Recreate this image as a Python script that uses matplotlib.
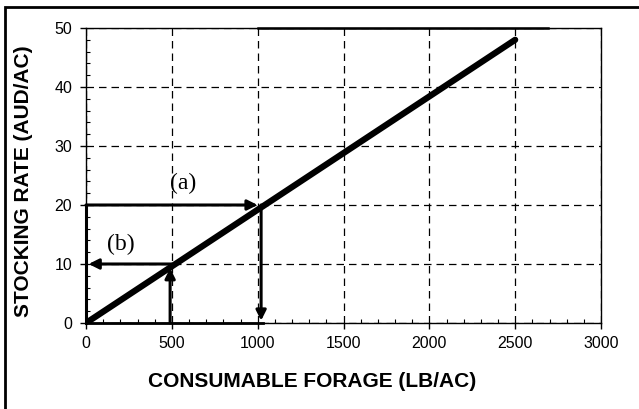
import matplotlib
matplotlib.use("Agg")
import matplotlib.pyplot as plt
from matplotlib.patches import Rectangle
from matplotlib.ticker import MultipleLocator

# Data
forage = [0, 2500]          # consumable forage (lb/ac)
stocking = [0, 48]          # stocking rate (AUD/ac)
xticks = [0, 500, 1000, 1500, 2000, 2500, 3000]
xtick_labels = ["0", "500", "1000", "1500", "2000", "2500", "3000"]
yticks = [0, 10, 20, 30, 40, 50]
ytick_labels = ["0", "10", "20", "30", "40", "50"]
arrow_a_y = 20
arrow_a_x = 1000
arrow_b_y = 10
arrow_b_x = 500
label_a = "(a)"
label_b = "(b)"

plt.rcParams['font.family'] = ['Liberation Sans', 'DejaVu Sans']

fig = plt.figure(figsize=(6.39, 4.09), dpi=100)
ax = fig.add_axes([86/639, 1-323/409, (601-86)/639, (323-28)/409])

# outer frame
fig.patches.append(Rectangle((5/639, -0.1), 1.2, 1-7/409+0.1, transform=fig.transFigure,
                             fill=False, edgecolor='black', linewidth=2.0))

ax.set_xlim(0, 3000)
ax.set_ylim(0, 50)
ax.set_xticks(xticks)
ax.set_xticklabels(xtick_labels)
ax.set_yticks(yticks)
ax.set_yticklabels(ytick_labels)
ax.xaxis.set_minor_locator(MultipleLocator(100))
ax.yaxis.set_minor_locator(MultipleLocator(2))
ax.tick_params(axis='both', which='major', direction='out', length=4, width=1, labelsize=11.5)
ax.tick_params(axis='x', which='major', pad=5)
ax.tick_params(axis='y', which='major', pad=6)
ax.tick_params(axis='both', which='minor', direction='in', length=3, width=0.8)

ax.grid(True, which='major', linestyle=(0, (6, 4)), color='black', linewidth=0.9)
for s in ax.spines.values():
    s.set_linewidth(1.0)

# main line
ax.plot(forage, stocking, color='black', linewidth=4.5, solid_capstyle='round', zorder=5)

ap = dict(arrowstyle='-|>', color='black', lw=2.2, mutation_scale=15, shrinkA=0, shrinkB=0)
# (a): right to the line, then down
ax.annotate('', xy=(arrow_a_x, arrow_a_y), xytext=(0, arrow_a_y), arrowprops=ap, zorder=6)
ax.annotate('', xy=(arrow_a_x + 20, 0.4), xytext=(arrow_a_x + 20, arrow_a_y), arrowprops=ap, zorder=6)
# (b): up to the line, then left
ax.annotate('', xy=(arrow_b_x - 10, 9.3), xytext=(arrow_b_x - 10, 0), arrowprops=ap, zorder=6)
ax.annotate('', xy=(15, arrow_b_y), xytext=(arrow_b_x, arrow_b_y), arrowprops=ap, zorder=6)

# thick segments of frame
ax.plot([0, 0], [0, 20], color='black', lw=2.2, clip_on=False, zorder=6)
ax.plot([0, 1030], [0, 0], color='black', lw=2.0, clip_on=False, zorder=6)
ax.plot([1000, 2690], [50, 50], color='black', lw=1.8, clip_on=False, zorder=6)

ax.text(565, 23.7, label_a, family='Liberation Serif', fontsize=17, ha='center', va='center')
ax.text(205, 13.3, label_b, family='Liberation Serif', fontsize=17, ha='center', va='center')

ax.set_xlabel("CONSUMABLE FORAGE (LB/AC)", fontsize=15, fontweight='bold')
ax.set_ylabel("STOCKING RATE (AUD/AC)", fontsize=15, fontweight='bold')
ax.xaxis.set_label_coords(0.44, -0.165)
ax.yaxis.set_label_coords(-0.103, 0.48)

fig.savefig("out.png", dpi=100)
